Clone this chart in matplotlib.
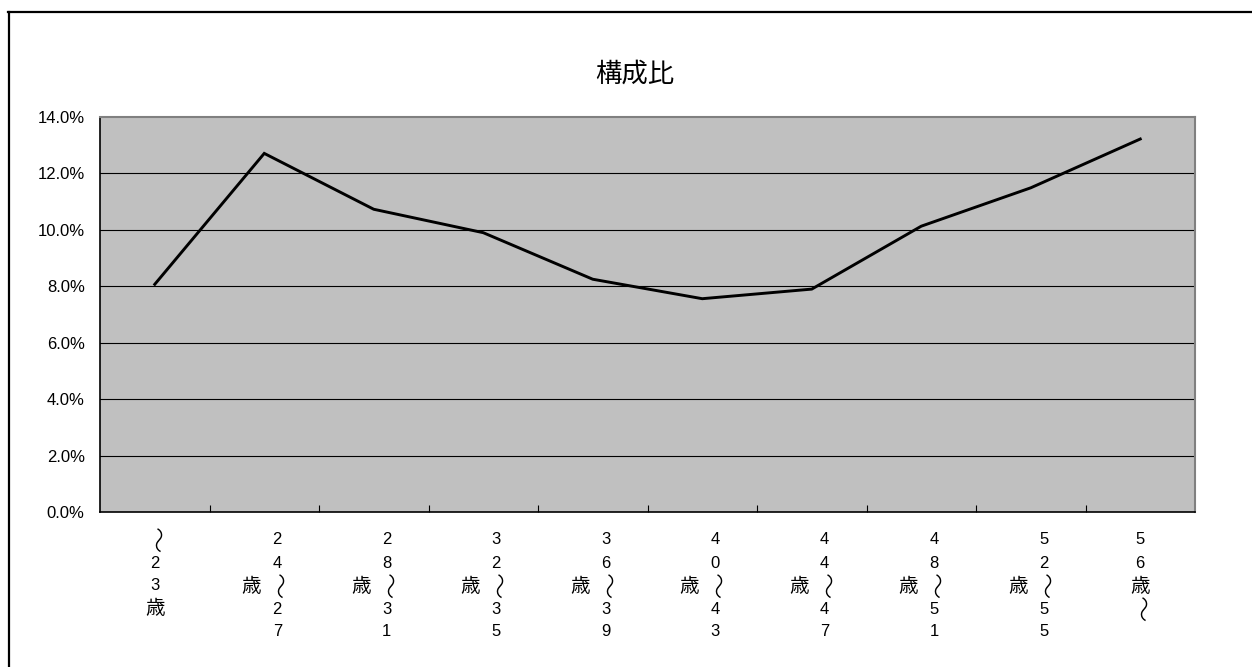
import matplotlib
matplotlib.use("Agg")
import matplotlib.pyplot as plt
from matplotlib.lines import Line2D
from matplotlib.ticker import FuncFormatter, FixedLocator

plt.rcParams["font.family"] = ["Liberation Sans", "Noto Sans CJK JP", "DejaVu Sans"]

# Age bands and their share of the total
categories = ["～23歳", "24～27歳", "28～31歳", "32～35歳", "36～39歳",
              "40～43歳", "44～47歳", "48～51歳", "52～55歳", "56歳～"]
shares = [8.07, 12.71, 10.73, 9.90, 8.25, 7.56, 7.90, 10.13, 11.49, 13.22]
y_ticks = [0, 2, 4, 6, 8, 10, 12, 14]
title = "構成比"

W, H, DPI = 1252, 667, 100
fig = plt.figure(figsize=(W / DPI, H / DPI), dpi=DPI)
fig.patch.set_facecolor("white")

# chart frame (left and top edges)
fig.add_artist(Line2D([9 / W, 9 / W], [0, 1 - 12 / H], transform=fig.transFigure,
                      color="black", lw=1.6))
fig.add_artist(Line2D([8 / W, 1], [1 - 12 / H, 1 - 12 / H], transform=fig.transFigure,
                      color="black", lw=1.6))

left, right, top, bottom = 100, 1195, 117, 512
ax = fig.add_axes([left / W, 1 - bottom / H, (right - left) / W, (bottom - top) / H])
ax.set_facecolor("#C0C0C0")

x = list(range(len(categories)))
ax.plot(x, shares, color="black", lw=2.1, solid_joinstyle="miter", zorder=3)

ax.set_xlim(-0.5, len(categories) - 0.5)
ax.set_ylim(y_ticks[0], y_ticks[-1])
ax.yaxis.set_major_locator(FixedLocator(y_ticks))
ax.yaxis.set_major_formatter(FuncFormatter(lambda v, p: f"{v:.1f}%"))
ax.tick_params(axis="y", length=0, pad=11, labelsize=12)
for v in y_ticks[1:-1]:
    ax.axhline(v, color="black", lw=0.8, zorder=1)

# category boundaries as inward ticks
ax.set_xticks([i + 0.5 for i in range(len(categories) - 1)])
ax.set_xticklabels([])
ax.tick_params(axis="x", direction="in", length=5, width=0.8, color="black")

for side in ("top", "right"):
    ax.spines[side].set_color("#808080")
    ax.spines[side].set_linewidth(1.5)
for side in ("left", "bottom"):
    ax.spines[side].set_color("black")
    ax.spines[side].set_linewidth(1.2)


def draw_stacked(ax, idx, text, per_col=5, pitch=23, first=28, col_gap=26):
    """Write a label one character per row, wrapping into columns to the left."""
    cols = [text[i:i + per_col] for i in range(0, len(text), per_col)]
    ncol = len(cols)
    full = len(cols[0])
    for c, chunk in enumerate(cols):
        dx = (ncol - 1) * col_gap / 2 - c * col_gap
        start = (full - len(chunk)) / 2 if c > 0 else 0
        for r, ch in enumerate(chunk):
            dy = -(first + (start + r) * pitch)
            kw = dict(xy=(idx, 0), xycoords=("data", "axes fraction"),
                      textcoords="offset pixels", ha="center", va="center",
                      annotation_clip=False)
            if ch == "～":
                ax.annotate(ch, xytext=(dx, dy), rotation=-90, fontsize=19,
                            family=["Noto Sans CJK JP"], fontweight="light", **kw)
            elif ch == "歳":
                ax.annotate(ch, xytext=(dx, dy), fontsize=14,
                            family=["Noto Sans CJK JP"], **kw)
            else:
                ax.annotate(ch, xytext=(dx, dy), fontsize=12, **kw)


for i, lab in enumerate(categories):
    draw_stacked(ax, i, lab)

fig.text(634.5 / W, 1 - 74 / H, title, ha="center", va="center", fontsize=19,
         family=["Noto Sans CJK JP"])

fig.savefig("out.png", dpi=DPI)
